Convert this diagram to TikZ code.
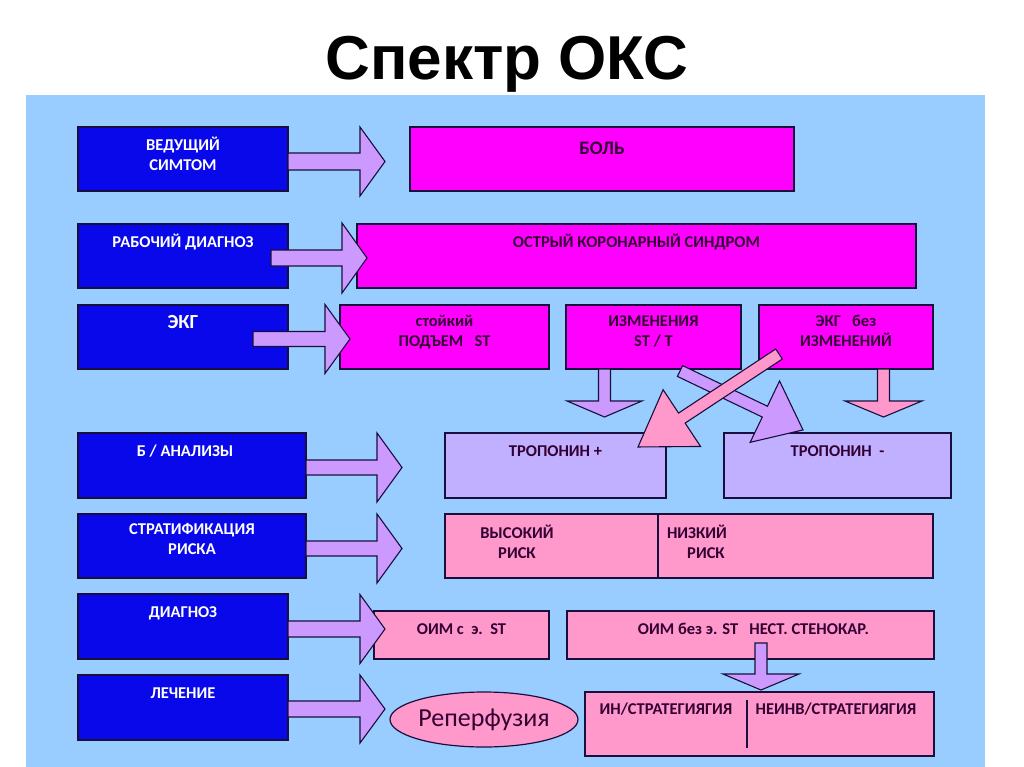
\documentclass[tikz,border=0pt]{standalone}
\usepackage{fontspec}
\setmainfont{Carlito}
\newfontfamily\titlefont{Liberation Sans}
\usetikzlibrary{shapes.geometric,calc}
\definecolor{panel}{RGB}{153,204,255}
\definecolor{lblue}{RGB}{8,8,235}
\definecolor{mag}{RGB}{255,0,255}
\definecolor{pinkc}{RGB}{255,153,204}
\definecolor{lav}{RGB}{204,153,255}
\definecolor{trop}{RGB}{192,176,255}
\definecolor{edge}{RGB}{25,15,60}
\definecolor{dtext}{RGB}{51,0,51}
\newcommand\blockarr[7]{%
  \draw[arrowline,fill=#1,shift={#2},rotate=#3]
    (0,#5) -- ({#4-#7},#5) -- ({#4-#7},#6) -- (#4,0) -- ({#4-#7},-#6) -- ({#4-#7},-#5) -- (0,-#5) -- cycle;}
\tikzset{
  box/.style={draw=edge, line width=1.2pt, anchor=north west, inner sep=0pt, outer sep=0pt},
  bluebox/.style={box, fill=lblue},
  magbox/.style={box, fill=mag},
  pinkbox/.style={box, fill=pinkc},
  tropbox/.style={box, fill=trop},
  arrowline/.style={draw=edge, line width=1.1pt, line join=miter},
  ltxt/.style={text=white, font=\bfseries\fontsize{16.5}{20}\selectfont, align=center, anchor=north, inner sep=0pt, execute at begin node=\rule{0pt}{13pt}},
  rtxt/.style={ltxt, text=dtext},
  divider/.style={draw=edge, line width=1.1pt},
}
\begin{document}
\begin{tikzpicture}[x=1pt,y=-1pt]
\useasboundingbox (0,0) rectangle (1024,767);
\fill[white] (0,0) rectangle (1024,767);
\fill[panel] (26,95) rectangle (985,767);

\node[anchor=base, font=\titlefont\bfseries\fontsize{62}{62}\selectfont] (title) at (507,80) {Спектр ОКС};

% left column
\node[bluebox, minimum width=210, minimum height=64] (b1) at (78,127) {};
\node[bluebox, minimum width=210, minimum height=64] (b2) at (78,224) {};
\node[bluebox, minimum width=210, minimum height=64] (b3) at (78,305) {};
\node[bluebox, minimum width=228, minimum height=65] (b4) at (78,433) {};
\node[bluebox, minimum width=228, minimum height=64] (b5) at (78,514) {};
\node[bluebox, minimum width=210, minimum height=65] (b6) at (78,594) {};
\node[bluebox, minimum width=210, minimum height=65] (b7) at (78,675) {};

\node[ltxt] (t1) at ([yshift=-10pt]b1.north) {ВЕДУЩИЙ\\СИМТОМ};
\node[ltxt] (t2) at ([yshift=-10pt]b2.north) {РАБОЧИЙ ДИАГНОЗ};
\node[ltxt, font=\bfseries\fontsize{20}{22}\selectfont] (t3) at ([yshift=-10pt]b3.north) {ЭКГ};
\node[ltxt] (t4) at ([xshift=-7pt,yshift=-10pt]b4.north) {Б / АНАЛИЗЫ};
\node[ltxt] (t5) at ([yshift=-9pt]b5.north) {СТРАТИФИКАЦИЯ\\РИСКА};
\node[ltxt] (t6) at ([yshift=-10pt]b6.north) {ДИАГНОЗ};
\node[ltxt] (t7) at ([yshift=-10pt]b7.north) {ЛЕЧЕНИЕ};

% right side
\node[magbox, minimum width=384, minimum height=64] (pain) at (410,127) {};
\node[magbox, minimum width=559, minimum height=64] (oks) at (357,224) {};
\node[magbox, minimum width=209, minimum height=64] (stem) at (340,305) {};
\node[magbox, minimum width=175, minimum height=64] (stt) at (566,305) {};
\node[magbox, minimum width=174, minimum height=64] (noecg) at (759,305) {};
\node[tropbox, minimum width=221, minimum height=65] (tpos) at (445,433) {};
\node[tropbox, minimum width=227, minimum height=65] (tneg) at (724,433) {};
\node[pinkbox, minimum width=488, minimum height=64] (risk) at (445,514) {};
\node[pinkbox, minimum width=175, minimum height=48] (oimst) at (374,611) {};
\node[pinkbox, minimum width=367, minimum height=48] (oimnst) at (567,611) {};
\node[pinkbox, minimum width=349, minimum height=64] (strat) at (585,692) {};
\node[ellipse, draw=edge, line width=1.2pt, fill=pinkc, minimum width=188, minimum height=55, inner sep=0pt,
      text=dtext, font=\fontsize{26}{28}\selectfont] (reperf) at (484,719.5) {Реперфузия};

\draw[divider] (658,514) -- (658,578);
\draw[divider] (747,700) -- (747,748);

\node[rtxt, font=\bfseries\fontsize{19}{22}\selectfont] (pt) at ([yshift=-14pt]pain.north) {БОЛЬ};
\node[rtxt] (okt) at ([yshift=-10pt]oks.north) {ОСТРЫЙ КОРОНАРНЫЙ СИНДРОМ};
\node[rtxt] (stemt) at ([yshift=-10pt]stem.north) {стойкий\\ПОДЪЕМ~~~ST};
\node[rtxt] (sttt) at ([yshift=-10pt]stt.north) {ИЗМЕНЕНИЯ\\ST / T};
\node[rtxt] (noecgt) at ([yshift=-10pt]noecg.north) {ЭКГ~~~без\\ИЗМЕНЕНИЙ};
\node[rtxt] (tpost) at ([yshift=-10pt]tpos.north) {ТРОПОНИН~+};
\node[rtxt] (tnegt) at ([yshift=-10pt]tneg.north) {ТРОПОНИН~~-};
\node[rtxt] (hr1) at (517,525) {ВЫСОКИЙ\\РИСК};
\node[rtxt] (lr1) at (697,525) {НИЗКИЙ\\\hspace*{18pt}РИСК};
\node[rtxt] (oimstt) at ([yshift=-10pt]oimst.north) {ОИМ с~~э.~~ST};
\node[rtxt] (oimnstt) at ([xshift=3pt,yshift=-10pt]oimnst.north) {ОИМ без э. ST~~~НЕСТ. СТЕНОКАР.};
\node[rtxt] (s1) at (666,701) {ИН/СТРАТЕГИЯГИЯ};
\node[rtxt] (s2) at (836,701) {НЕИНВ/СТРАТЕГИЯГИЯ};

% horizontal block arrows
\coordinate (a1) at (288,161.5);
\coordinate (a2) at (271,258);
\coordinate (a3) at (253,339);
\coordinate (a4) at (306,467.5);
\coordinate (a5) at (306,548.5);
\coordinate (a6) at (288,629);
\coordinate (a7) at (288,709);
\blockarr{lav}{(a1)}{0}{97}{8.5}{34.5}{25}
\blockarr{lav}{(a2)}{0}{96}{8}{35}{25}
\blockarr{lav}{(a3)}{0}{97}{7.5}{34.5}{25}
\blockarr{lav}{(a4)}{0}{96}{7.5}{34.5}{25}
\blockarr{lav}{(a5)}{0}{96}{7.5}{34.5}{25}
\blockarr{lav}{(a6)}{0}{97}{8}{34.5}{25}
\blockarr{lav}{(a7)}{0}{97}{8}{34}{25}

% down arrows
\coordinate (d1) at (604.5,369);
\coordinate (d2) at (883.5,369);
\coordinate (d3) at (761,643);
\blockarr{lav}{(d1)}{-90}{48}{6}{37.5}{16}
\blockarr{pinkc}{(d2)}{-90}{48}{6}{38.5}{16}
\blockarr{lav}{(d3)}{-90}{47}{6}{38}{16}

% diagonal arrows
\coordinate (g1) at (680,371);
\coordinate (g2) at (779,354);
\blockarr{lav}{(g1)}{-25.6}{136.4}{6}{34}{42.3}
\blockarr{pinkc}{(g2)}{-146.6}{168.9}{6}{34}{52.5}
\end{tikzpicture}
\end{document}
